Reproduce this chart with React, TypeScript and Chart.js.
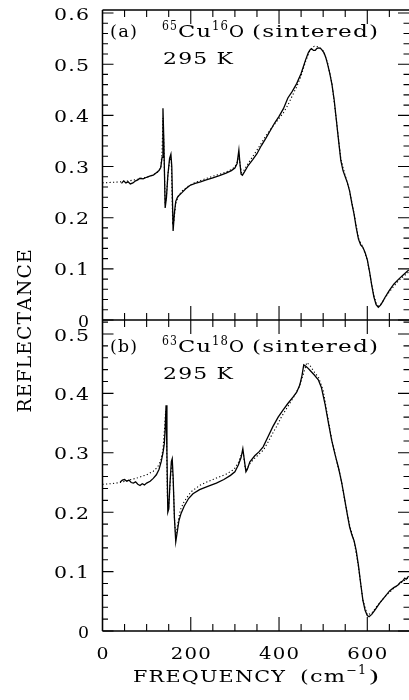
import React, { useEffect, useRef } from "react";
import { Chart, registerables } from "chart.js";
Chart.register(...registerables);

// Panel (a): 65Cu16O, measured (solid) and fit (dotted)
const FREQ_A = [43,48,53,58,63,69,75,80,85,92,100,107,115,122,128,132,135,137,139,142,145,148,152,155,157,160,163,166,170,175,180,188,198,210,222,235,250,265,280,292,300,305,309,311,314,317,322,330,340,350,360,370,380,390,400,410,420,430,440,450,460,466,470,474,478,482,486,490,494,498,502,506,510,515,520,525,530,535,540,545,550,555,560,565,570,575,580,585,590,595,600,605,610,615,620,625,630,635,640,650,660,670,680,690,694];
const REFL_A = [.267,.272,.268,.270,.266,.268,.272,.274,.277,.276,.279,.281,.283,.288,.292,.298,.318,.414,.350,.219,.240,.282,.316,.324,.300,.174,.210,.232,.240,.245,.249,.256,.263,.267,.270,.274,.278,.282,.287,.292,.297,.306,.332,.310,.285,.283,.290,.302,.313,.325,.341,.355,.370,.385,.398,.413,.434,.447,.462,.482,.508,.522,.528,.530,.527,.527,.531,.532,.531,.527,.522,.513,.500,.482,.460,.430,.390,.350,.312,.292,.280,.268,.252,.228,.207,.180,.158,.147,.142,.132,.118,.095,.068,.045,.030,.025,.029,.036,.044,.058,.070,.079,.087,.095,.098];
const FREQ_A_FIT = [0,20,40,60,80,100,115,125,132,135,137,139,142,145,149,153,156,159,162,166,172,180,195,210,230,250,270,290,300,306,309,312,315,320,330,340,350,360,370,380,390,400,410,420,430,440,450,460,470,475,480,490,500,510,520,530,540,550,560,570,580,590,600,610,615,620,625,630,640,650,660,670,680,694];
const REFL_A_FIT = [.268,.269,.270,.272,.275,.279,.284,.289,.298,.330,.395,.345,.225,.245,.290,.318,.308,.190,.195,.228,.243,.252,.262,.269,.275,.281,.286,.293,.299,.310,.325,.302,.288,.292,.306,.319,.332,.346,.360,.372,.383,.394,.405,.420,.438,.456,.477,.505,.527,.533,.535,.534,.526,.503,.462,.390,.315,.282,.252,.208,.160,.142,.117,.070,.048,.033,.027,.030,.043,.055,.066,.076,.084,.094];

// Panel (b): 63Cu18O, measured (solid) and fit (dotted)
const FREQ_B = [40,45,50,55,60,65,70,75,80,85,90,95,100,108,115,122,128,133,137,140,142,144,146,148,150,153,156,158,160,163,166,169,173,178,185,195,205,220,240,258,275,290,300,308,314,318,321,325,328,334,345,355,364,375,386,398,409,420,432,440,447,452,456,460,465,470,480,489,496,504,512,519,527,535,542,548,555,560,565,570,575,580,585,590,595,600,604,610,618,628,640,651,660,669,675,680,685,688,692,694];
const REFL_B = [.251,.254,.255,.252,.254,.250,.249,.251,.247,.245,.248,.246,.249,.252,.257,.263,.272,.285,.300,.315,.340,.380,.300,.200,.205,.250,.285,.290,.260,.190,.150,.165,.185,.198,.210,.223,.231,.238,.244,.249,.255,.262,.268,.280,.292,.307,.290,.268,.272,.285,.295,.302,.310,.327,.344,.360,.372,.383,.394,.402,.414,.430,.448,.446,.443,.439,.431,.423,.410,.383,.350,.322,.297,.274,.250,.225,.195,.175,.162,.152,.135,.110,.080,.052,.035,.026,.024,.028,.036,.047,.058,.068,.073,.077,.082,.084,.089,.087,.091,.092];
const FREQ_B_FIT = [0,20,40,60,80,100,115,125,132,137,141,143,145,147,150,154,157,160,163,166,170,176,185,200,220,240,260,280,298,308,315,319,323,327,335,345,355,365,375,385,395,405,415,425,435,445,455,463,470,480,490,500,510,520,530,540,550,560,570,580,590,600,610,620,640,660,680,694];
const REFL_B_FIT = [.247,.248,.250,.254,.258,.263,.269,.276,.287,.305,.345,.370,.330,.225,.210,.258,.280,.258,.190,.158,.178,.203,.218,.234,.245,.252,.258,.264,.272,.284,.298,.300,.276,.272,.283,.291,.298,.305,.318,.332,.345,.360,.372,.384,.396,.410,.432,.452,.447,.436,.426,.405,.362,.320,.288,.258,.215,.178,.152,.108,.052,.027,.030,.040,.058,.072,.083,.090];

// Axis ticks / labels
const X_LABELS = [0, 200, 400, 600];
const Y_LABELS_A = [0, 0.1, 0.2, 0.3, 0.4, 0.5, 0.6];
const Y_LABELS_B = [0, 0.1, 0.2, 0.3, 0.4, 0.5];
const X_MIN = 0, X_MAX = 694.5;
const YA_MIN = -0.6078, YA_MAX = 0.6059;
const YB_MIN = 0, YB_MAX = 1.0455;

const FONT = '"DejaVu Serif", "Liberation Serif", serif';

function zip(xs: number[], ys: number[]) {
  return xs.map((x, i) => ({ x, y: ys[i] }));
}

// Draws text so that it spans `width`, widening glyphs (Century-like look) with a small gap.
function spread(ctx: CanvasRenderingContext2D, text: string, left: number, base: number, width: number, gap = 1.2) {
  const chars = [...text];
  const n = chars.length;
  const ws = chars.map((c) => ctx.measureText(c).width);
  const total = ws.reduce((a, b) => a + b, 0);
  let sx = (width - gap * (n - 1)) / total;
  sx = Math.max(0.75, Math.min(1.6, sx));
  const g = n > 1 ? (width - total * sx) / (n - 1) : 0;
  let x = n > 1 ? left : left + (width - total * sx) / 2;
  chars.forEach((c, i) => {
    ctx.save();
    ctx.translate(x, base);
    ctx.scale(sx, 1);
    ctx.fillText(c, 0, 0);
    ctx.restore();
    x += ws[i] * sx + g;
  });
}

function fmt(v: number) {
  return v === 0 ? "0" : v.toFixed(1);
}

const framePlugin = {
  id: "frame",
  afterDatasetsDraw(chart: any) {
    const ctx: CanvasRenderingContext2D = chart.ctx;
    const { left, right, top } = chart.chartArea;
    const xs = chart.scales.x, ya = chart.scales.yA, yb = chart.scales.yB;
    const mid = ya.getPixelForValue(0);
    const base = yb.getPixelForValue(0);
    ctx.save();
    ctx.strokeStyle = "#000";
    ctx.fillStyle = "#000";
    ctx.lineWidth = 1.5;
    ctx.beginPath();
    ctx.moveTo(left, top); ctx.lineTo(right, top);
    ctx.moveTo(left, mid); ctx.lineTo(right, mid);
    ctx.moveTo(left, base); ctx.lineTo(right, base);
    ctx.moveTo(left, top); ctx.lineTo(left, base);
    ctx.stroke();

    ctx.lineWidth = 1.1;
    ctx.beginPath();
    for (let v = 0; v <= 700; v += 50) {
      const px = xs.getPixelForValue(v);
      if (px > right + 1) continue;
      const major = v % 200 === 0;
      const len = major ? 14 : 7;
      ctx.moveTo(px, top); ctx.lineTo(px, top + len);
      ctx.moveTo(px, mid - len); ctx.lineTo(px, mid + len);
      ctx.moveTo(px, base); ctx.lineTo(px, base - len);
    }
    const yTicks = (scale: any, maxV: number) => {
      for (let k = 0; k * 0.02 <= maxV + 1e-9; k++) {
        const py = scale.getPixelForValue(k * 0.02);
        const len = k % 5 === 0 ? 11 : 5.5;
        ctx.moveTo(left, py); ctx.lineTo(left + len, py);
        ctx.moveTo(right, py); ctx.lineTo(right - len, py);
      }
    };
    yTicks(ya, 0.6);
    yTicks(yb, 0.52);
    ctx.stroke();

    // tick labels
    ctx.font = `17.5px ${FONT}`;
    ctx.textBaseline = "alphabetic";
    ctx.textAlign = "left";
    const yLab = (scale: any, vals: number[]) => {
      vals.forEach((v) => {
        const py = scale.getPixelForValue(v);
        const t = fmt(v);
        const w = t.length === 1 ? 11 : 35;
        spread(ctx, t, 89 - w, py + 6.5, w);
      });
    };
    yLab(ya, Y_LABELS_A);
    yLab(yb, Y_LABELS_B);
    X_LABELS.forEach((v) => {
      const px = xs.getPixelForValue(v);
      const t = String(v);
      const w = t.length === 1 ? 12 : 40;
      spread(ctx, t, px - w / 2, base + 28, w);
    });

    // axis titles
    const bt = base + 50.5;
    spread(ctx, "FREQUENCY", 133, bt, 152);
    spread(ctx, "(cm", 300, bt, 45);
    spread(ctx, ")", 368, bt, 12);
    ctx.font = `12px ${FONT}`;
    spread(ctx, "\u22121", 346, bt - 7.5, 20);
    ctx.font = `18px ${FONT}`;
    ctx.save();
    ctx.translate(30.5, 331);
    ctx.rotate(-Math.PI / 2);
    spread(ctx, "REFLECTANCE", -81.5, 0, 163);
    ctx.restore();

    // panel annotations
    const label = (tag: string, m1: string, m2: string, y0: number) => {
      ctx.font = `17.5px ${FONT}`;
      spread(ctx, tag, 110, y0, 27);
      spread(ctx, "Cu", 178, y0, 33);
      spread(ctx, "O", 229, y0, 15);
      spread(ctx, "(sintered)", 252, y0, 126);
      spread(ctx, "295 K", 163, y0 + 27.5, 70);
      ctx.font = `12px ${FONT}`;
      spread(ctx, m1, 162, y0 - 6.5, 15);
      spread(ctx, m2, 212, y0 - 6.5, 16);
    };
    label("(a)", "65", "16", ya.getPixelForValue(0.6) + 23.5);
    label("(b)", "63", "18", yb.getPixelForValue(0.5) + 17.5);
    ctx.restore();
  },
};

export default function App() {
  const ref = useRef<HTMLCanvasElement | null>(null);
  useEffect(() => {
    if (!ref.current) return;
    const solid = { borderColor: "#000", borderWidth: 1.3, pointRadius: 0, tension: 0, fill: false };
    const dotted = { borderColor: "#000", borderWidth: 1.1, pointRadius: 0, tension: 0, fill: false, borderDash: [1.2, 2.3] };
    const chart = new Chart(ref.current, {
      type: "line",
      data: {
        datasets: [
          { ...dotted, label: "a fit", data: zip(FREQ_A_FIT, REFL_A_FIT), yAxisID: "yA" },
          { ...solid, label: "a", data: zip(FREQ_A, REFL_A), yAxisID: "yA" },
          { ...dotted, label: "b fit", data: zip(FREQ_B_FIT, REFL_B_FIT), yAxisID: "yB" },
          { ...solid, label: "b", data: zip(FREQ_B, REFL_B), yAxisID: "yB" },
        ] as any,
      },
      options: {
        animation: false,
        responsive: false,
        devicePixelRatio: 1,
        layout: { padding: { left: 102.5, right: 0, top: 10, bottom: 69 } },
        plugins: { legend: { display: false }, tooltip: { enabled: false } },
        scales: {
          x: { type: "linear", min: X_MIN, max: X_MAX, display: false },
          yA: { type: "linear", min: YA_MIN, max: YA_MAX, display: false },
          yB: { type: "linear", min: YB_MIN, max: YB_MAX, display: false },
        },
      },
      plugins: [framePlugin],
    });
    return () => chart.destroy();
  }, []);
  return (
    <canvas
      ref={ref}
      width={409}
      height={700}
      style={{ position: "fixed", left: 0, top: 0, width: 409, height: 700, background: "#fff" }}
    />
  );
}
